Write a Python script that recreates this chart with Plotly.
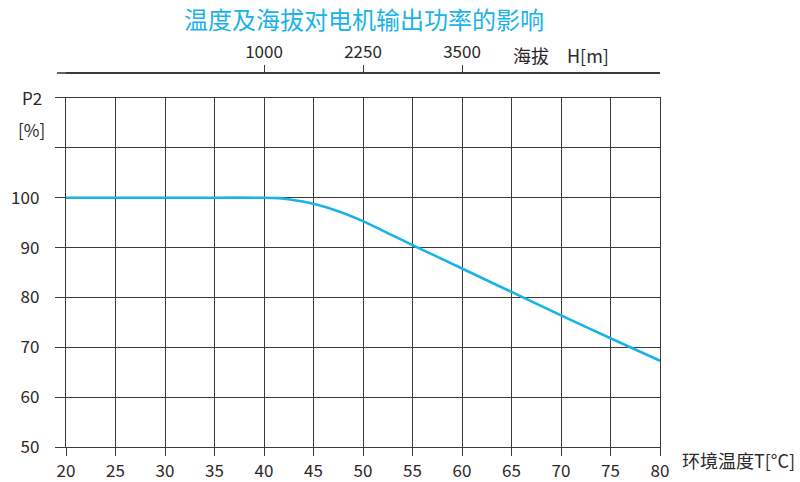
import plotly.graph_objects as go

temp = [20, 25, 30, 35, 40, 41.5, 42.5, 45, 47.5, 50, 52.5, 55, 60, 65, 70, 75, 80]
power = [100, 100, 100, 100, 100, 99.92, 99.7, 98.8, 97.3, 95.3, 92.9, 90.5, 85.8, 81.1, 76.4, 71.8, 67.3]

x_ticks = [20, 25, 30, 35, 40, 45, 50, 55, 60, 65, 70, 75, 80]
y_ticks = [50, 60, 70, 80, 90, 100, 110, 120]
y_labels = ["50", "60", "70", "80", "90", "100", "", ""]
alt_pos = [40, 50, 60]
alt_labels = ["1000", "2250", "3500"]

FONT = "Noto Sans CJK SC"
DARK = "#2b2728"
GRID = "#3d3a3a"
BLUE = "#1ab3e8"

fig = go.Figure()
fig.add_trace(go.Scatter(x=temp, y=power, mode="lines",
                         line=dict(color=BLUE, width=2.6, shape="spline", smoothing=0.5),
                         showlegend=False, hoverinfo="skip"))
fig.add_trace(go.Scatter(x=[20, 80], y=[None, None], xaxis="x2", mode="lines",
                         showlegend=False, hoverinfo="skip"))

fig.update_layout(
    width=800, height=482,
    margin=dict(l=66, r=140, t=73, b=35, autoexpand=False),
    paper_bgcolor="white", plot_bgcolor="white",
    font=dict(family=FONT, size=17, color=DARK),
    xaxis=dict(range=[20, 80], tickvals=x_ticks, ticks="outside", ticklen=8,
               tickcolor=GRID, tickwidth=1.4, showgrid=True, gridcolor=GRID, gridwidth=1.4,
               showline=True, linecolor=GRID, linewidth=1.4, mirror=True, zeroline=False,
               automargin=False,
               tickfont=dict(size=17, family=FONT, color=DARK)),
    yaxis=dict(range=[50, 120], domain=[0, 0.9332], tickvals=y_ticks, ticktext=y_labels,
               ticks="outside", ticklen=10, tickcolor=GRID, tickwidth=1.4,
               showgrid=True, gridcolor=GRID, gridwidth=1.4,
               showline=True, linecolor=GRID, linewidth=1.4, mirror=True, zeroline=False,
               ticklabelstandoff=12, automargin=False,
               tickfont=dict(size=17, family=FONT, color=DARK)),
    xaxis2=dict(range=[20, 80], overlaying="x", side="top", anchor="free", position=1,
                tickvals=alt_pos, ticktext=alt_labels, ticks="outside", ticklen=7,
                tickcolor=GRID, tickwidth=1.4, showgrid=False, showline=True,
                linecolor=GRID, linewidth=1.6, zeroline=False, automargin=False,
                tickfont=dict(size=17, family=FONT, color=DARK)),
)

fig.add_shape(type="line", xref="paper", yref="paper", x0=-9/594, x1=0, y0=1, y1=1,
              line=dict(color=GRID, width=1.6))

fig.add_annotation(text="温度及海拔对电机输出功率的影响", xref="paper", yref="paper",
                   x=(364-66)/594, y=1 + (73-18)/374, xanchor="center", yanchor="middle",
                   showarrow=False, font=dict(size=24, color=BLUE, family=FONT))
fig.add_annotation(text="海拔", x=(531-66)/594, xref="paper", yref="paper", y=1 + (73-55)/374,
                   xanchor="center", yanchor="middle", showarrow=False,
                   font=dict(size=18, color=DARK, family=FONT))
fig.add_annotation(text="H[m]", x=(588-66)/594, xref="paper", yref="paper", y=1 + (73-55)/374,
                   xanchor="center", yanchor="middle", showarrow=False,
                   font=dict(size=18, color=DARK, family=FONT))
fig.add_annotation(text="P2", xref="paper", x=(44-66)/594, yref="y", y=120,
                   xanchor="right", yanchor="middle", showarrow=False,
                   font=dict(size=17, color=DARK, family=FONT))
fig.add_annotation(text="[%]", xref="paper", x=(47-66)/594, yref="y", y=113.6,
                   xanchor="right", yanchor="middle", showarrow=False,
                   font=dict(size=17, color=DARK, family=FONT))
fig.add_annotation(text="环境温度T[°C]", xref="paper", x=(680-66)/594, yref="paper",
                   y=-(460-447)/374, xanchor="left", yanchor="middle", showarrow=False,
                   font=dict(size=18, color=DARK, family=FONT))

fig.write_html("out.html", config={"displayModeBar": False},
               post_script="document.body.style.margin='0';document.body.style.padding='0';")
